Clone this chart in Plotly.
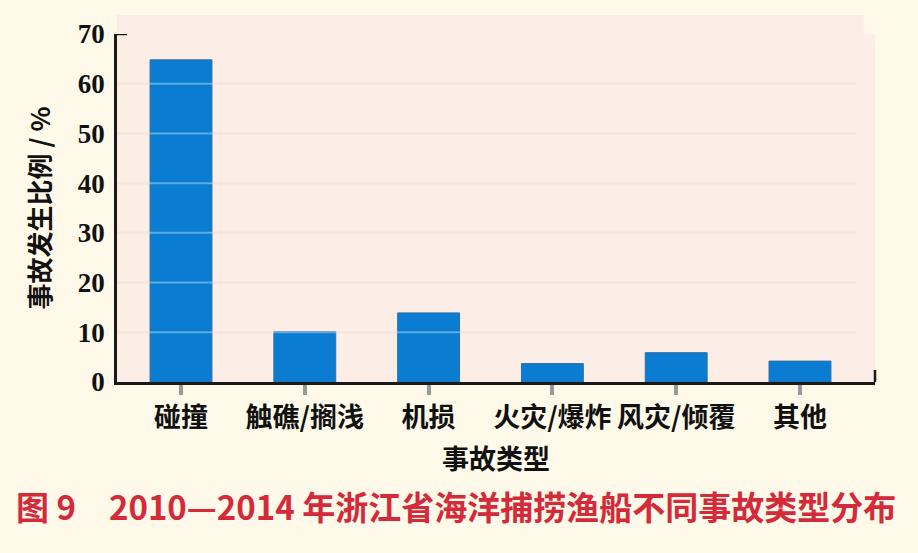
import plotly.graph_objects as go

categories = ["碰撞", "触礁/搁浅", "机损", "火灾/爆炸", "风灾/倾覆", "其他"]
values = [64.8, 10.1, 13.9, 3.7, 5.9, 4.2]
y_ticks = [0, 10, 20, 30, 40, 50, 60, 70]

x_title = "事故类型"
y_title = "事故发生比例 / %"
fig_title = "图 9　2010—2014 年浙江省海洋捕捞渔船不同事故类型分布"

W, H = 918, 553
L, R, T, B = 117, 43, 34, 170.5
plot_h = H - T - B
plot_w = W - L - R

fig = go.Figure()
fig.add_trace(go.Bar(
    x=categories, y=values, width=0.5,
    marker=dict(color="#0a7dd2", line=dict(color="#2f6fa6", width=1)),
    hoverinfo="x+y",
))

shapes = []
# gridlines (below bars), skipping axis baseline and top
for v in y_ticks[1:-1]:
    shapes.append(dict(type="line", xref="paper", x0=0, x1=0.975, yref="y", y0=v, y1=v,
                       line=dict(color="#f1d8ce", width=2), layer="below"))
    shapes.append(dict(type="line", xref="paper", x0=0, x1=0.975, yref="y", y0=v, y1=v,
                       line=dict(color="rgba(255,255,255,0.35)", width=2), layer="above"))
# pink band above top of axis
shapes.append(dict(type="rect", xref="paper", x0=0, x1=0.985, yref="paper", y0=1, y1=1 + 19 / plot_h,
                   fillcolor="#fcede6", line=dict(width=0), layer="below"))
# small tick at top of y axis
shapes.append(dict(type="line", xref="paper", x0=0, x1=10 / plot_w, yref="y", y0=y_ticks[-1], y1=y_ticks[-1],
                   line=dict(color="#1a1a1a", width=2.5)))
# small tick at right end of x axis
shapes.append(dict(type="line", xref="paper", x0=1, x1=1, yref="paper", y0=0, y1=12 / plot_h,
                   line=dict(color="#1a1a1a", width=2.5)))

fig.update_layout(
    width=W, height=H,
    margin=dict(l=L, r=R, t=T, b=B, pad=0),
    paper_bgcolor="#fef9e8",
    plot_bgcolor="#fcede6",
    showlegend=False,
    bargap=0.5,
    shapes=shapes,
    annotations=[dict(
        text=fig_title, xref="paper", yref="paper",
        x=(456 - L) / plot_w, y=(H - B - 507) / plot_h,
        xanchor="center", yanchor="middle", showarrow=False,
        font=dict(family="Noto Sans CJK SC, Liberation Sans", size=33, color="#d42a3a", weight="bold"),
    )],
)

fig.update_xaxes(
    range=[-0.517, 5.606],
    showline=True, linecolor="#1a1a1a", linewidth=2.5,
    ticks="outside", ticklen=10, tickwidth=4, tickcolor="#9a9a9a",
    showgrid=False,
    tickfont=dict(family="Noto Sans CJK SC", size=27, color="#111111", weight="bold"),
    title=dict(text=x_title, standoff=16,
               font=dict(family="Noto Sans CJK SC", size=27, color="#111111", weight="bold")),
)
fig.update_yaxes(
    range=[0, 70], tickvals=y_ticks,
    showline=True, linecolor="#1a1a1a", linewidth=2.5,
    showgrid=False, zeroline=False,
    ticks="", ticklabelstandoff=4,
    tickfont=dict(family="Liberation Serif", size=27, color="#111111", weight="bold"),
    title=dict(text=y_title, standoff=20,
               font=dict(family="Noto Sans CJK SC, Liberation Serif", size=26, color="#111111", weight="bold")),
)

fig.write_html("out.html", config={"displayModeBar": False},
               post_script="document.body.style.margin='0';document.body.style.overflow='hidden';")
